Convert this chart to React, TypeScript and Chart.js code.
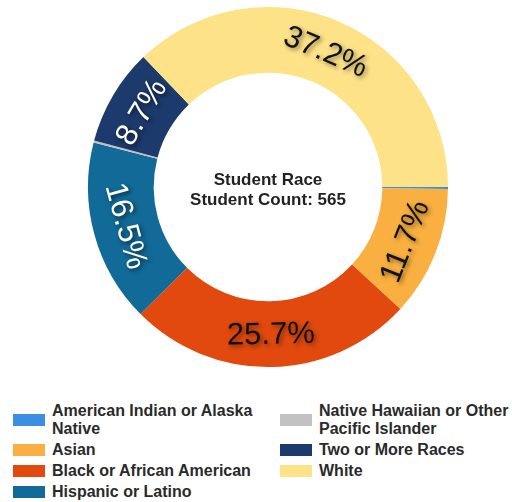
import React, { useEffect, useRef } from "react";
import { Chart, registerables } from "chart.js";

Chart.register(...registerables);

const categories = [
  "American Indian or Alaska Native",
  "Asian",
  "Black or African American",
  "Hispanic or Latino",
  "Native Hawaiian or Other Pacific Islander",
  "Two or More Races",
  "White",
];
const studentCounts = [1, 66, 145, 93, 1, 49, 210];
const sliceColors = ["#3c8ee2", "#f9b040", "#e1490e", "#126a98", "#c2c2c2", "#1c3a6c", "#fde288"];
const labelColors = ["#111", "#111", "#111", "#fff", "#fff", "#fff", "#111"];
const centerTitle = "Student Race";
const centerSubtitle = "Student Count: 565";
const FONT = '"Liberation Sans", Arial, sans-serif';

const arcLabels = {
  id: "arcLabels",
  afterDatasetsDraw(chart: any) {
    const ctx = chart.ctx;
    const meta = chart.getDatasetMeta(0);
    const values = chart.data.datasets[0].data as number[];
    const total = values.reduce((a, b) => a + b, 0);
    meta.data.forEach((arc: any, i: number) => {
      const pct = (values[i] / total) * 100;
      if (pct < 2) return;
      const p = arc.getProps(["x", "y", "startAngle", "endAngle", "innerRadius", "outerRadius"], true);
      const mid = (p.startAngle + p.endAngle) / 2;
      const r = (p.innerRadius + p.outerRadius) / 2;
      const x = p.x + Math.cos(mid) * r;
      const y = p.y + Math.sin(mid) * r;
      let rot = mid + Math.PI / 2;
      const norm = ((rot % (2 * Math.PI)) + 2 * Math.PI) % (2 * Math.PI);
      if (norm > Math.PI / 2 && norm < (3 * Math.PI) / 2) rot -= Math.PI;
      ctx.save();
      ctx.translate(x, y);
      ctx.rotate(rot);
      ctx.font = `31px ${FONT}`;
      ctx.textAlign = "center";
      ctx.textBaseline = "middle";
      const light = labelColors[i] === "#fff";
      ctx.shadowColor = light ? "rgba(0,0,0,0.6)" : "rgba(0,0,0,0.45)";
      ctx.shadowBlur = 4;
      ctx.shadowOffsetX = 2;
      ctx.shadowOffsetY = 2;
      ctx.fillStyle = labelColors[i];
      ctx.fillText(pct.toFixed(1) + "%", 0, 1);
      ctx.restore();
    });
    const a = meta.data[0];
    if (a) {
      ctx.save();
      ctx.font = `bold 17px ${FONT}`;
      ctx.fillStyle = "#222";
      ctx.textAlign = "center";
      ctx.textBaseline = "alphabetic";
      ctx.fillText(centerTitle, a.x, a.y - 2);
      ctx.fillText(centerSubtitle, a.x, a.y + 18);
      ctx.restore();
    }
  },
};

export default function App() {
  const ref = useRef<HTMLCanvasElement>(null);
  useEffect(() => {
    document.body.style.margin = "0";
    if (!ref.current) return;
    const chart = new Chart(ref.current, {
      type: "doughnut",
      data: {
        labels: categories,
        datasets: [
          {
            data: studentCounts,
            backgroundColor: sliceColors,
            borderWidth: 0,
          },
        ],
      },
      options: {
        animation: false,
        responsive: false,
        rotation: 90,
        cutout: "63.5%",
        layout: { padding: { left: 24, right: 0, top: 7, bottom: 13 } },
        plugins: { legend: { display: false }, tooltip: { enabled: false } },
      },
      plugins: [arcLabels],
    });
    return () => chart.destroy();
  }, []);

  const left = categories.slice(0, 4).map((c, i) => ({ c, i }));
  const right = categories.slice(4).map((c, i) => ({ c, i: i + 4 }));
  const item = (e: { c: string; i: number }, textW: number) => (
    <div key={e.c} style={{ display: "flex", alignItems: "center", marginBottom: 3 }}>
      <div style={{ width: 32, height: 12, background: sliceColors[e.i], flex: "0 0 auto" }} />
      <div style={{ marginLeft: 7, width: textW, lineHeight: "18px" }}>{e.c}</div>
    </div>
  );

  return (
    <div style={{ position: "relative", width: 512, height: 502, overflow: "hidden", background: "#fff" }}>
      <canvas ref={ref} width={512} height={380} style={{ position: "absolute", left: 0, top: 0 }} />
      <div
        style={{
          position: "absolute",
          top: 402,
          left: 13,
          display: "flex",
          fontFamily: FONT,
          fontWeight: "bold",
          fontSize: 16,
          color: "#2a2a2a",
        }}
      >
        <div style={{ width: 267 }}>{left.map((e) => item(e, 215))}</div>
        <div>{right.map((e) => item(e, 195))}</div>
      </div>
    </div>
  );
}
